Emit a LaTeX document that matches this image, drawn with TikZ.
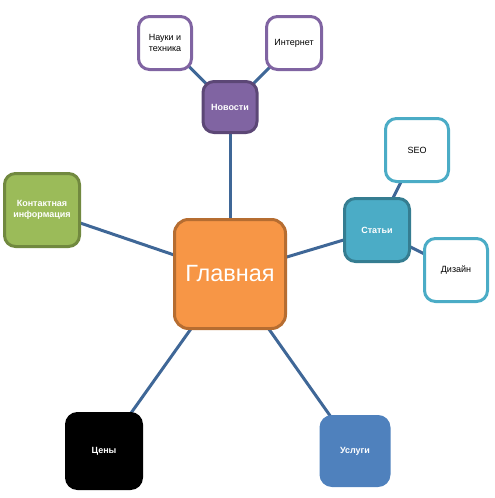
\documentclass[tikz,border=0pt]{standalone}
\usepackage{fontspec}
\setmainfont{Liberation Sans}
\usetikzlibrary{positioning,backgrounds}
\definecolor{HubOrange}{HTML}{F79646}
\definecolor{HubOrangeDark}{HTML}{B66D31}
\definecolor{NewsPurple}{HTML}{8064A2}
\definecolor{NewsPurpleDark}{HTML}{5C4776}
\definecolor{ArtTeal}{HTML}{4BACC6}
\definecolor{ArtTealDark}{HTML}{357D91}
\definecolor{ContactGreen}{HTML}{9BBB59}
\definecolor{ContactGreenDark}{HTML}{71893F}
\definecolor{ServBlue}{HTML}{4F81BD}
\definecolor{LinkBlue}{HTML}{3F6797}

\begin{document}
\begin{tikzpicture}[
    x=1pt, y=-1pt,
    hubbox/.style={draw=HubOrangeDark, fill=HubOrange, line width=3pt, rounded corners=14pt, inner sep=0pt,
      minimum width=111pt, minimum height=109pt, text=white, font=\fontsize{23.5}{28}\selectfont},
    topicbox/.style={draw=#1, fill=#1, line width=3pt, rounded corners=11pt, inner sep=0pt, text=white,
      align=center, font=\bfseries\fontsize{9}{10.5}\selectfont},
    leafbox/.style={draw=#1, fill=white, line width=3pt, rounded corners=11pt, inner sep=0pt, text=black,
      align=center, font=\fontsize{9}{10.5}\selectfont},
    link/.style={draw=LinkBlue, line width=3pt}
]

  % -------------------------------------------------------------
  % CENTRE
  % -------------------------------------------------------------
  \useasboundingbox (0,0) rectangle (495,498);
  \node[hubbox] (main) at (230,274) {Главная};

  % -------------------------------------------------------------
  % FIRST LEVEL
  % -------------------------------------------------------------
  \node[topicbox=NewsPurple, draw=NewsPurpleDark, minimum width=54pt, minimum height=51pt] (news) at (230,107) {Новости};
  \node[topicbox=ArtTeal, draw=ArtTealDark, minimum width=65pt, minimum height=63pt] (articles) at (377,230) {Статьи};
  \node[topicbox=ContactGreen, draw=ContactGreenDark, minimum width=75pt, minimum height=73pt] (contact) at (42,210) {Контактная\\информация};
  \node[topicbox=black, minimum width=75pt, minimum height=75pt] (prices) at (104,451) {Цены};
  \node[topicbox=ServBlue, minimum width=68pt, minimum height=69pt] (services) at (355,451) {Услуги};

  % -------------------------------------------------------------
  % SECOND LEVEL
  % -------------------------------------------------------------
  \node[leafbox=NewsPurple, minimum width=53pt, minimum height=53pt] (science) at (165,43) {Науки и\\техника};
  \node[leafbox=NewsPurple, minimum width=55pt, minimum height=53pt] (internet) at (294,43) {Интернет};
  \node[leafbox=ArtTeal, minimum width=63pt, minimum height=63pt] (seo) at (417,150) {SEO};
  \node[leafbox=ArtTeal, minimum width=63pt, minimum height=63pt] (design) at (456,270) {Дизайн};

  % connectors behind the boxes
  \begin{scope}[on background layer]
    \draw[link] (main.center) -- (news.center);
    \draw[link] (main.center) -- (articles.center);
    \draw[link] (main.center) -- (contact.center);
    \draw[link] (main.center) -- (prices.center);
    \draw[link] (main.center) -- (services.center);
    \draw[link] (news.center) -- (science.center);
    \draw[link] (news.center) -- (internet.center);
    \draw[link] (articles.center) -- (seo.center);
    \draw[link] (articles.center) -- (design.center);
  \end{scope}

\end{tikzpicture}
\end{document}
